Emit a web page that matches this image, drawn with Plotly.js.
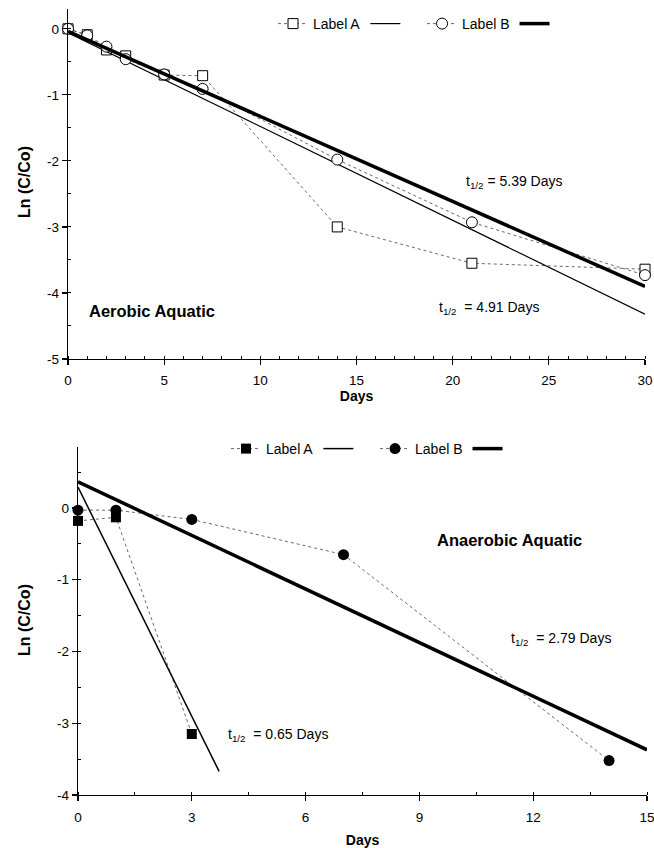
<!DOCTYPE html>
<html>
<head>
<meta charset="utf-8">
<script src="https://cdn.plot.ly/plotly-3.0.1.min.js"></script>
<style>html,body{margin:0;padding:0;background:#fff;}#chart{width:654px;height:848px;}</style>
</head>
<body>
<div id="chart"></div>
<script>
// ---- Aerobic aquatic (top panel) ----
const aeroDays = [0, 1, 2, 3, 5, 7, 14, 21, 30];
const aeroA = [0, -0.09, -0.32, -0.41, -0.70, -0.71, -3.00, -3.55, -3.64];
const aeroB = [0, -0.10, -0.27, -0.46, -0.69, -0.91, -1.98, -2.93, -3.73];
const aeroFitDays = [0, 30];
const aeroFitA = [-0.06, -4.32];
const aeroFitB = [-0.04, -3.90];

// ---- Anaerobic aquatic (bottom panel) ----
const anaDaysA = [0, 1, 3];
const anaA = [-0.18, -0.13, -3.15];
const anaDaysB = [0, 1, 3, 7, 14];
const anaB = [-0.03, -0.03, -0.16, -0.65, -3.52];
const anaFitDaysA = [0, 3.72];
const anaFitA = [0.29, -3.67];
const anaFitDaysB = [0, 15];
const anaFitB = [0.365, -3.37];

const seriesNames = ['Label A', 'Label B'];
const halfLives = ['5.39', '4.91', '0.65', '2.79'];
const yTitle = 'Ln (C/Co)';
const xTitle = 'Days';

// tick labels (hyphen minus, as in the reference)
const aeroYTickVals = [-5, -4, -3, -2, -1, 0];
const aeroYTickText = ['-5', '-4', '-3', '-2', '-1', '0'];
const anaYTickVals = [-4, -3, -2, -1, 0];
const anaYTickText = ['-4', '-3', '-2', '-1', '0'];

const FONT = 'Liberation Sans, Arial, Helvetica, sans-serif';
const dashLine = {color: '#444', width: 0.8, dash: '3px,3px'};
const FIT_NAME = '\u00a0\u00a0\u00a0';

const traces = [
  {x: aeroDays, y: aeroA, xaxis: 'x', yaxis: 'y', mode: 'lines+markers', name: seriesNames[0], legend: 'legend',
   line: dashLine, marker: {symbol: 'square', size: 10, color: 'white', line: {color: 'black', width: 1}}, cliponaxis: false},
  {x: aeroFitDays, y: aeroFitA, xaxis: 'x', yaxis: 'y', mode: 'lines', name: FIT_NAME, legend: 'legend',
   line: {color: 'black', width: 1.2}, cliponaxis: false},
  {x: aeroDays, y: aeroB, xaxis: 'x', yaxis: 'y', mode: 'lines+markers', name: seriesNames[1], legend: 'legend',
   line: dashLine, marker: {symbol: 'circle', size: 11, color: 'white', line: {color: 'black', width: 1}}, cliponaxis: false},
  {x: aeroFitDays, y: aeroFitB, xaxis: 'x', yaxis: 'y', mode: 'lines', name: FIT_NAME, legend: 'legend',
   line: {color: 'black', width: 3.5}, cliponaxis: false},

  {x: anaDaysA, y: anaA, xaxis: 'x2', yaxis: 'y2', mode: 'lines+markers', name: seriesNames[0], legend: 'legend2',
   line: dashLine, marker: {symbol: 'square', size: 10, color: 'black'}, cliponaxis: false},
  {x: anaFitDaysA, y: anaFitA, xaxis: 'x2', yaxis: 'y2', mode: 'lines', name: FIT_NAME, legend: 'legend2',
   line: {color: 'black', width: 1.5}, cliponaxis: false},
  {x: anaDaysB, y: anaB, xaxis: 'x2', yaxis: 'y2', mode: 'lines+markers', name: seriesNames[1], legend: 'legend2',
   line: dashLine, marker: {symbol: 'circle', size: 11, color: 'black'}, cliponaxis: false},
  {x: anaFitDaysB, y: anaFitB, xaxis: 'x2', yaxis: 'y2', mode: 'lines', name: FIT_NAME, legend: 'legend2',
   line: {color: 'black', width: 3.5}, cliponaxis: false}
];

function xAxis(domain, range, dtick, minorDtick, anchor, labelStandoff, titleStandoff) {
  return {domain: domain, range: range, anchor: anchor, dtick: dtick, tick0: 0,
    showline: true, linecolor: 'black', linewidth: 1.2, showgrid: false, zeroline: false,
    ticks: 'outside', ticklen: 5, tickwidth: 1.2, tickcolor: 'black',
    ticklabelstandoff: labelStandoff, ticklabeloverflow: 'allow',
    minor: {tickmode: 'linear', tick0: 0, dtick: minorDtick, ticks: 'inside', ticklen: 3, tickwidth: 1, tickcolor: 'black', showgrid: false},
    tickfont: {family: FONT, size: 13.5, color: 'black'},
    title: {text: '<b>' + xTitle + '</b>', font: {family: FONT, size: 14, color: 'black'}, standoff: titleStandoff},
    fixedrange: true};
}
function yAxis(domain, range, anchor, vals, text) {
  return {domain: domain, range: range, anchor: anchor, tickmode: 'array', tickvals: vals, ticktext: text,
    showline: true, linecolor: 'black', linewidth: 1.2, showgrid: false, zeroline: false,
    ticks: 'outside', ticklen: 5, tickwidth: 1.2, tickcolor: 'black',
    minor: {tickmode: 'linear', tick0: 0, dtick: 0.5, ticks: 'inside', ticklen: 3, tickwidth: 1, tickcolor: 'black', showgrid: false},
    tickfont: {family: FONT, size: 13.5, color: 'black'},
    fixedrange: true};
}

const annFont = {family: FONT, size: 14, color: 'black'};
const labFont = {family: FONT, size: 16.5, color: 'black'};
const yTitleFont = {family: FONT, size: 16, color: 'black'};
const annotations = [
  {xref: 'paper', yref: 'paper', x: 24/654, y: 1 - 182/848, xanchor: 'center', yanchor: 'middle', showarrow: false,
   textangle: -90, text: '<b>' + yTitle + '</b>', font: yTitleFont},
  {xref: 'paper', yref: 'paper', x: 24/654, y: 1 - 620/848, xanchor: 'center', yanchor: 'middle', showarrow: false,
   textangle: -90, text: '<b>' + yTitle + '</b>', font: yTitleFont},
  {xref: 'x', yref: 'y', x: 20.6, y: -2.32, xanchor: 'left', yanchor: 'middle', showarrow: false,
   text: 't<sub>1/2</sub> = ' + halfLives[0] + ' Days', font: annFont},
  {xref: 'x', yref: 'y', x: 19.2, y: -4.23, xanchor: 'left', yanchor: 'middle', showarrow: false,
   text: 't<sub>1/2</sub>  = ' + halfLives[1] + ' Days', font: annFont},
  {xref: 'x', yref: 'y', x: 1.0, y: -4.27, xanchor: 'left', yanchor: 'middle', showarrow: false,
   text: '<b>Aerobic Aquatic</b>', font: labFont},
  {xref: 'x2', yref: 'y2', x: 3.9, y: -3.17, xanchor: 'left', yanchor: 'middle', showarrow: false,
   text: 't<sub>1/2</sub>  = ' + halfLives[2] + ' Days', font: annFont},
  {xref: 'x2', yref: 'y2', x: 11.35, y: -1.83, xanchor: 'left', yanchor: 'middle', showarrow: false,
   text: 't<sub>1/2</sub>  = ' + halfLives[3] + ' Days', font: annFont},
  {xref: 'x2', yref: 'y2', x: 9.4, y: -0.45, xanchor: 'left', yanchor: 'middle', showarrow: false,
   text: '<b>Anaerobic Aquatic</b>', font: labFont}
];

const legendBase = {orientation: 'h', xanchor: 'left', yanchor: 'middle', bgcolor: 'rgba(0,0,0,0)',
  font: {family: FONT, size: 14, color: 'black'}, itemclick: false, itemdoubleclick: false};

const layout = {
  width: 654, height: 848,
  margin: {l: 0, r: 0, t: 0, b: 0},
  paper_bgcolor: 'white', plot_bgcolor: 'white',
  font: {family: FONT, color: 'black'},
  xaxis: xAxis([68/654, 645/654], [0, 30], 5, 1, 'y', 4, 2),
  yaxis: yAxis([1 - 359/848, 1 - 9/848], [-5, 0.3], 'x', aeroYTickVals, aeroYTickText),
  xaxis2: xAxis([78/654, 647/654], [0, 15], 3, 1.5, 'y2', 5, 13),
  yaxis2: yAxis([1 - 795/848, 1 - 447/848], [-4, 0.85], 'x2', anaYTickVals, anaYTickText),
  legend: Object.assign({}, legendBase, {x: 273/654, y: 1 - 24/848}),
  legend2: Object.assign({}, legendBase, {x: 226/654, y: 1 - 449/848}),
  annotations: annotations,
  showlegend: true
};

Plotly.newPlot('chart', traces, layout, {displayModeBar: false, staticPlot: true});
</script>
</body>
</html>
